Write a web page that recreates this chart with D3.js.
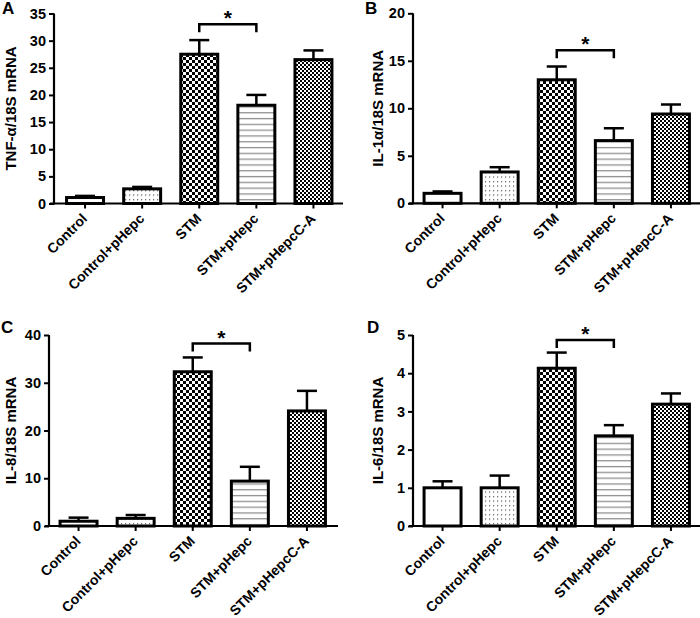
<!DOCTYPE html>
<html><head><meta charset="utf-8">
<script src="https://cdn.jsdelivr.net/npm/d3@7"></script>
<style>
body{margin:0;background:#fff;}
text{font-family:Arial,"Liberation Sans",sans-serif;font-weight:bold;fill:#000;}
</style></head>
<body><svg id="c" width="700" height="618"></svg>
<script>
const categories = ["Control","Control+pHepc","STM","STM+pHepc","STM+pHepcC-A"];
const tnfMean = [1.1, 2.7, 27.5, 18.1, 26.5];
const tnfErr  = [0.3, 0.35, 2.6, 1.9, 1.7];
const il1Mean = [1.05, 3.3, 13.0, 6.6, 9.4];
const il1Err  = [0.2, 0.5, 1.4, 1.3, 1.0];
const il8Mean = [1.0, 1.6, 32.3, 9.4, 24.1];
const il8Err  = [0.75, 0.7, 3.0, 3.0, 4.2];
const il6Mean = [1.0, 1.0, 4.13, 2.36, 3.19];
const il6Err  = [0.17, 0.32, 0.41, 0.28, 0.28];
const yTitles = ["TNF-\u03B1/18S mRNA","IL-1\u03B1/18S mRNA","IL-8/18S mRNA","IL-6/18S mRNA"];
const panelLetters = ["A","B","C","D"];
const yMax = [35, 20, 40, 5];
const yStep = [5, 5, 10, 1];
const sigLevel = [33, 16.1, 38.2, 4.87];
const fills = ["white","url(#dots)","url(#check)","url(#hlines)","url(#fine)"];

const svg = d3.select("#c");
svg.append("rect").attr("width",700).attr("height",618).attr("fill","#fff");
const defs = svg.append("defs");
let p = defs.append("pattern").attr("id","dots").attr("patternUnits","userSpaceOnUse").attr("width",4).attr("height",4.5);
p.append("rect").attr("width",4).attr("height",4.5).attr("fill","#fff");
p.append("rect").attr("x",1).attr("y",1).attr("width",1.2).attr("height",1.2).attr("fill","#555");
p = defs.append("pattern").attr("id","check").attr("patternUnits","userSpaceOnUse").attr("width",6).attr("height",6);
p.append("rect").attr("width",6).attr("height",6).attr("fill","#fff");
p.append("rect").attr("width",3).attr("height",3).attr("fill","#000");
p.append("rect").attr("x",3).attr("y",3).attr("width",3).attr("height",3).attr("fill","#000");
p = defs.append("pattern").attr("id","fine").attr("patternUnits","userSpaceOnUse").attr("width",4).attr("height",4);
p.append("rect").attr("width",4).attr("height",4).attr("fill","#fff");
p.append("rect").attr("width",2).attr("height",2).attr("fill","#000");
p.append("rect").attr("x",2).attr("y",2).attr("width",2).attr("height",2).attr("fill","#000");
p = defs.append("pattern").attr("id","hlines").attr("patternUnits","userSpaceOnUse").attr("width",6).attr("height",5.8);
p.append("rect").attr("width",6).attr("height",5.8).attr("fill","#fff");
p.append("rect").attr("y",2).attr("width",6).attr("height",1.2).attr("fill","#888");

const panels = [
  {mean:tnfMean, err:tnfErr, ax:54, x0:56.5, yB:203.5, yT:13.5, titleX:16, letterX:2, letterY:14},
  {mean:il1Mean, err:il1Err, ax:413, x0:414, yB:203.3, yT:13.3, titleX:383, letterX:365, letterY:14},
  {mean:il8Mean, err:il8Err, ax:49, x0:50, yB:526, yT:335, titleX:16, letterX:1, letterY:333},
  {mean:il6Mean, err:il6Err, ax:413, x0:414, yB:526, yT:335, titleX:383, letterX:367, letterY:333}
];

panels.forEach((P,i)=>{
  const g = svg.append("g");
  const x = d3.scaleBand().domain(categories).range([P.x0, P.x0+285.5]).paddingInner(0.3).paddingOuter(0.15);
  const y = d3.scaleLinear().domain([0,yMax[i]]).range([P.yB,P.yT]);
  const data = categories.map((c,k)=>({c, v:P.mean[k], e:P.err[k], f:fills[k]}));
  data.forEach(d=>{
    const cx = x(d.c)+x.bandwidth()/2;
    g.append("line").attr("x1",cx).attr("x2",cx).attr("y1",y(d.v)).attr("y2",y(d.v+d.e)).attr("stroke","#000").attr("stroke-width",2.5);
    g.append("line").attr("x1",cx-10).attr("x2",cx+10).attr("y1",y(d.v+d.e)).attr("y2",y(d.v+d.e)).attr("stroke","#000").attr("stroke-width",2.5);
  });
  g.selectAll("rect.bar").data(data).enter().append("rect").attr("class","bar")
    .attr("x",d=>x(d.c)+1.5).attr("width",x.bandwidth()-3)
    .attr("y",d=>y(d.v)).attr("height",d=>Math.max(0,y(0)-y(d.v)))
    .attr("fill",d=>d.f).attr("stroke","#000").attr("stroke-width",3);
  const yAxis = d3.axisLeft(y).tickValues(d3.range(0,yMax[i]+0.001,yStep[i])).tickSize(5).tickPadding(3).tickFormat(d3.format("d"));
  const ya = g.append("g").attr("transform",`translate(${P.ax},0)`).call(yAxis);
  ya.select(".domain").attr("stroke-width",2.2).attr("d",`M0,${P.yT}V${P.yB+1}`);
  ya.selectAll(".tick line").attr("stroke-width",2);
  ya.selectAll("text").style("font-size","14.5px").style("font-family","Arial, 'Liberation Sans', sans-serif").style("font-weight","bold");
  const xAxis = d3.axisBottom(x).tickSize(5).tickFormat("");
  const xa = g.append("g").attr("transform",`translate(0,${P.yB})`).call(xAxis);
  xa.select(".domain").attr("stroke-width",2.2).attr("d",`M${P.ax-4},0H${P.ax+289}`);
  xa.selectAll(".tick line").attr("stroke-width",2);
  g.selectAll("text.xl").data(categories).enter().append("text").attr("class","xl")
    .attr("text-anchor","end").style("font-size","14px")
    .attr("transform",c=>`translate(${x(c)+x.bandwidth()/2+3},${P.yB+16}) rotate(-45)`)
    .text(c=>c);
  g.append("text").attr("text-anchor","middle").style("font-size","15px")
    .attr("transform",`translate(${P.titleX},${(P.yB+P.yT)/2}) rotate(-90)`).text(yTitles[i]);
  g.append("text").attr("x",P.letterX).attr("y",P.letterY).style("font-size","17px").text(panelLetters[i]);
  const x1 = x(categories[2])+x.bandwidth()/2, x2 = x(categories[3])+x.bandwidth()/2;
  const by = y(sigLevel[i]);
  g.append("path").attr("d",`M${x1},${by+8}V${by}H${x2}V${by+8}`).attr("fill","none").attr("stroke","#000").attr("stroke-width",2.5);
  g.append("text").attr("x",(x1+x2)/2).attr("y",by+1).attr("text-anchor","middle").style("font-size","21px").text("*");
});
</script></body></html>
